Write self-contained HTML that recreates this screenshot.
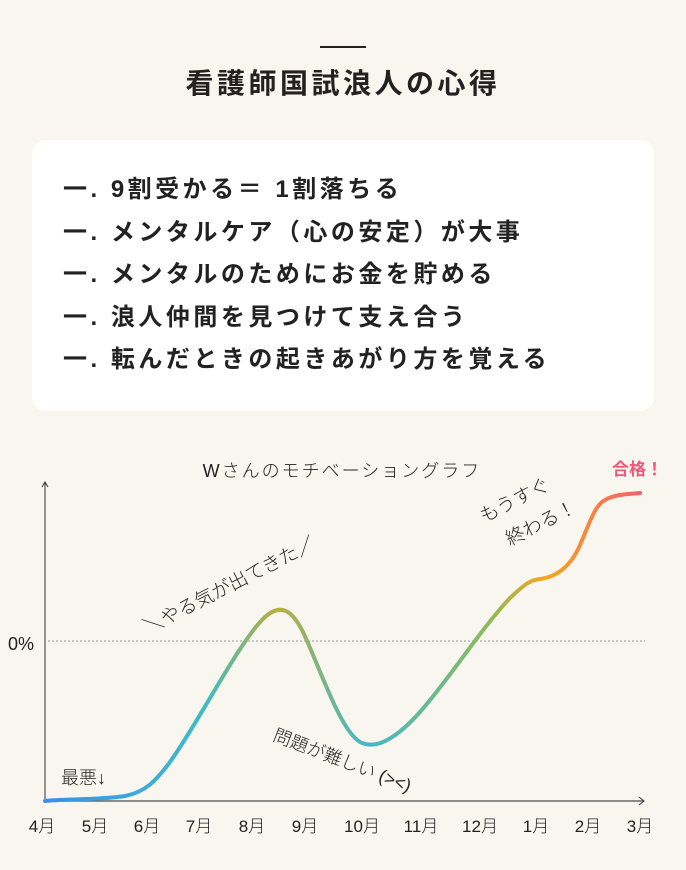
<!DOCTYPE html>
<html><head><meta charset="utf-8"><style>
body{margin:0;width:686px;height:870px;background:#f9f6ef;position:relative;overflow:hidden;font-family:"Liberation Sans","Noto Sans CJK JP",sans-serif;color:#222}
.bar{position:absolute;left:320px;top:46px;width:46px;height:2px;background:#222}
h1{position:absolute;left:0;width:686px;top:64px;margin:0;text-align:center;font-size:28px;font-weight:bold;letter-spacing:3.5px;line-height:40px}
.card{position:absolute;left:32px;top:140px;width:622px;height:271px;background:#fff;border-radius:14px}
.li{position:absolute;left:63px;font-size:24px;font-weight:bold;letter-spacing:3.5px;line-height:30px;white-space:nowrap}
svg{position:absolute;left:0;top:0}
svg text{font-family:"Liberation Sans","Noto Sans CJK JP",sans-serif;font-weight:300;fill:#222}
</style></head><body>
<div class="bar"></div>
<h1>看護師国試浪人の心得</h1>
<div class="card"></div>
<div class="li" style="top:175px">一. 9割受かる＝ 1割落ちる</div>
<div class="li" style="top:218px">一. メンタルケア（心の安定）が大事</div>
<div class="li" style="top:260px">一. メンタルのためにお金を貯める</div>
<div class="li" style="top:303px">一. 浪人仲間を見つけて支え合う</div>
<div class="li" style="top:345px">一. 転んだときの起きあがり方を覚える</div>
<svg width="686" height="870">
<defs><linearGradient id="g" gradientUnits="userSpaceOnUse" x1="45" y1="0" x2="640" y2="0">
<stop offset="0" stop-color="#3a8fe8"/><stop offset="0.18" stop-color="#3eaed8"/><stop offset="0.27" stop-color="#3fbcc4"/><stop offset="0.39" stop-color="#b8b03c"/><stop offset="0.54" stop-color="#42b8cc"/><stop offset="0.75" stop-color="#8fba58"/><stop offset="0.84" stop-color="#f4a81c"/><stop offset="1" stop-color="#f35f6e"/></linearGradient></defs>
<line x1="45" y1="483" x2="45" y2="801" stroke="#333" stroke-width="1"/>
<path d="M42,487 L45,482 L48,487" fill="none" stroke="#333"/>
<line x1="45" y1="801" x2="643" y2="801" stroke="#666" stroke-width="1.5"/>
<path d="M639,797 L644,801 L639,805" fill="none" stroke="#333"/>
<line x1="48" y1="641" x2="645" y2="641" stroke="#aaa" stroke-width="1.2" stroke-dasharray="2,2"/>
<text x="8" y="650" font-size="18">0%</text>
<path d="M45,801 C60,799 100,800 125,796 C145,792 155,782 170,762 C200,720 240,640 265,617 C282,602 293,612 303,632 C320,668 340,730 360,742 C375,750 395,740 420,712 C450,678 480,630 510,598 C525,584 530,580 540,579 C555,577 570,568 580,545 C590,522 595,505 605,500 C615,494 630,494 640,493" fill="none" stroke="url(#g)" stroke-width="4" stroke-linecap="round"/>
<text x="342" y="477" font-size="18" text-anchor="middle" letter-spacing="2">Wさんのモチベーショングラフ</text>
<text x="612" y="475" font-size="17" style="fill:#f2577a;font-weight:bold">合格！</text>
<text x="61" y="784" font-size="18">最悪↓</text>
<text transform="translate(148,634) rotate(-27)" font-size="19">＼やる気が出てきた／</text>
<text transform="translate(272,740) rotate(21)" font-size="18">問題が難しい (&gt;&lt;)</text>
<text transform="translate(484,523) rotate(-27)" font-size="19">もうすぐ</text>
<text transform="translate(510,546) rotate(-27)" font-size="19">終わる！</text>
<g font-size="17" text-anchor="middle">
<text x="42" y="832">4月</text><text x="95" y="832">5月</text><text x="147" y="832">6月</text><text x="199" y="832">7月</text><text x="252" y="832">8月</text><text x="305" y="832">9月</text><text x="362" y="832">10月</text><text x="421" y="832">11月</text><text x="480" y="832">12月</text><text x="536" y="832">1月</text><text x="588" y="832">2月</text><text x="640" y="832">3月</text>
</g>
</svg>
</body></html>
